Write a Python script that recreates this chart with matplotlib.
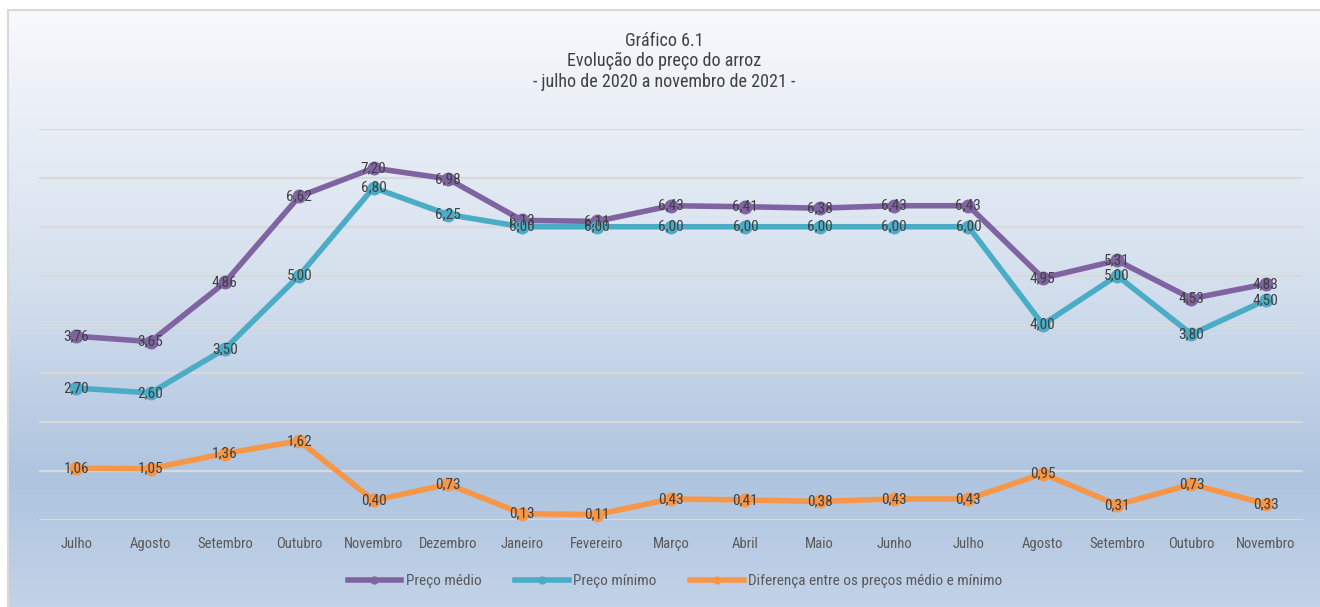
import numpy as np
import matplotlib
matplotlib.use("Agg")
import matplotlib.pyplot as plt
from matplotlib import font_manager
from matplotlib.patches import Rectangle

meses = ["Julho", "Agosto", "Setembro", "Outubro", "Novembro", "Dezembro", "Janeiro",
         "Fevereiro", "Março", "Abril", "Maio", "Junho", "Julho", "Agosto", "Setembro",
         "Outubro", "Novembro"]
preco_medio = [3.76, 3.65, 4.86, 6.62, 7.20, 6.98, 6.13, 6.11, 6.43, 6.41, 6.38, 6.43,
               6.43, 4.95, 5.31, 4.53, 4.83]
preco_minimo = [2.70, 2.60, 3.50, 5.00, 6.80, 6.25, 6.00, 6.00, 6.00, 6.00, 6.00, 6.00,
                6.00, 4.00, 5.00, 3.80, 4.50]
diferenca = [1.06, 1.05, 1.36, 1.62, 0.40, 0.73, 0.13, 0.11, 0.43, 0.41, 0.38, 0.43,
             0.43, 0.95, 0.31, 0.73, 0.33]

nomes = ["Preço médio", "Preço mínimo", "Diferença entre os preços médio e mínimo"]
cores = ["#8064a2", "#4bacc6", "#f79646"]

# condensed font if we have one
disponiveis = {f.name for f in font_manager.fontManager.ttflist}
fonte = "DejaVu Sans"
for nome in ["Liberation Sans Narrow", "Roboto Condensed", "Open Sans Condensed"]:
    if nome in disponiveis:
        fonte = nome
        break
plt.rcParams["font.family"] = [fonte, "DejaVu Sans"]

W, H = 1320, 607
fig = plt.figure(figsize=(W / 100, H / 100), dpi=100)
fig.patch.set_facecolor("white")

# gradient background of the chart area
bx0, by0, bx1, by1 = 8, 10, 1322, 609
bg = fig.add_axes([bx0 / W, 1 - by1 / H, (bx1 - bx0) / W, (by1 - by0) / H], zorder=-5)
stops = [(0.0, "#f7f9fc"), (0.45, "#d5e0ee"), (0.78, "#aec4df"), (1.0, "#c3d3e8")]
t = np.linspace(0, 1, 300)
rgb = np.array([matplotlib.colors.to_rgb(c) for _, c in stops])
pos = [p for p, _ in stops]
grad = np.stack([np.interp(t, pos, rgb[:, k]) for k in range(3)], axis=1)
bg.imshow(grad[:, None, :], aspect="auto", extent=[0, 1, 0, 1])
bg.set_axis_off()
fig.add_artist(Rectangle((bx0 / W, 1 - by1 / H), (bx1 - bx0) / W, (by1 - by0) / H,
                         transform=fig.transFigure, fill=False, ec="#d9d9d9", lw=1.5))

ax = fig.add_axes([39 / W, 1 - 520 / H, (1303 - 39) / W, (520 - 129) / H])
ax.set_facecolor("none")
x = np.arange(len(meses))
ax.set_xlim(-0.5, len(meses) - 0.5)
ax.set_ylim(0, 8)
ax.set_yticks(range(0, 9))
ax.yaxis.grid(True, color="#d9d9d9", lw=1.6)
ax.set_axisbelow(True)
for s in ax.spines.values():
    s.set_visible(False)
ax.tick_params(axis="y", left=False, labelleft=False)
ax.tick_params(axis="x", length=0, pad=12, labelsize=10.5, labelcolor="#595959")
ax.set_xticks(x)
ax.set_xticklabels(meses)

for serie, cor, nome in zip([preco_medio, preco_minimo, diferenca], cores, nomes):
    ax.plot(x, serie, color=cor, lw=4, marker="o", ms=9, label=nome, clip_on=False)

for serie in [preco_medio, preco_minimo, diferenca]:
    for xi, v in zip(x, serie):
        ax.text(xi, v, f"{v:.2f}".replace(".", ","), ha="center", va="center",
                fontsize=11, color="#404040", zorder=10)

titulo = ["Gráfico 6.1", "Evolução do preço do arroz", "- julho de 2020 a novembro de 2021 -"]
for yy, linha in zip([41, 61, 82], titulo):
    fig.text(664 / W, 1 - yy / H, linha, ha="center", va="center", fontsize=13, color="#404040")

leg = fig.legend(loc="center", bbox_to_anchor=(675 / W, 1 - 581 / H), ncol=3, frameon=False,
                 handlelength=3.5, handletextpad=0.3, columnspacing=2.2, fontsize=11,
                 markerscale=0.55)
for txt in leg.get_texts():
    txt.set_color("#595959")

fig.savefig("out.png", dpi=100)
